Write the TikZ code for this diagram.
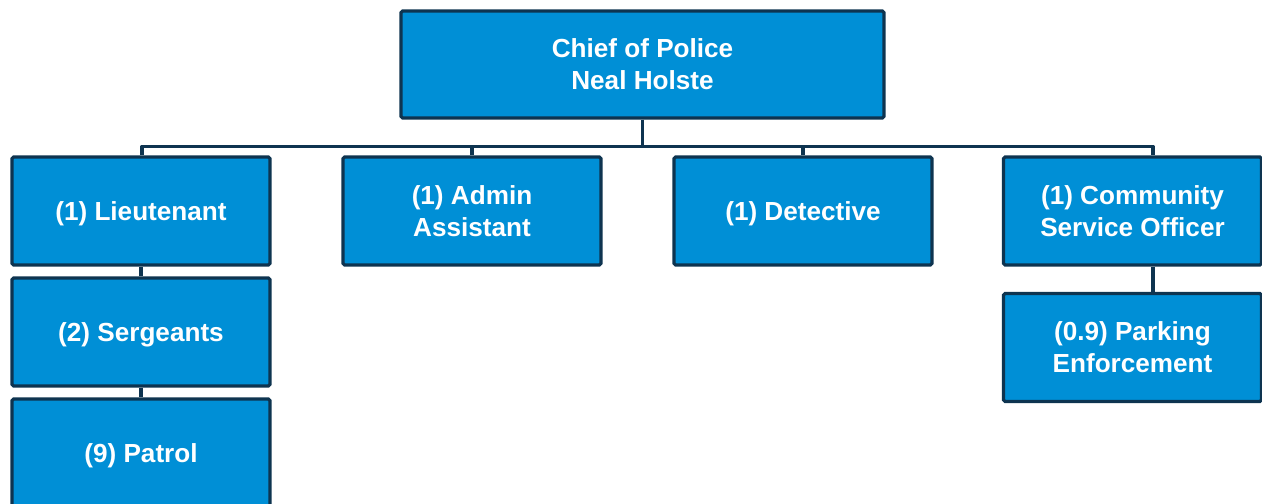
\documentclass[tikz,border=0pt]{standalone}
\usepackage{fontspec}
\setmainfont{Liberation Sans}
\definecolor{boxfill}{RGB}{0,143,214}
\definecolor{boxline}{RGB}{14,52,80}
\begin{document}
\begin{tikzpicture}[x=0.75pt,y=-0.75pt,
  orgbox/.style={draw=boxline,line width=2.4pt,fill=boxfill,rounded corners=1.2pt,
    minimum width=193.5pt,minimum height=81pt,inner sep=0pt,align=center,
    text=white,font=\fontsize{19.6}{24}\selectfont\bfseries},
  oneline/.style={text depth=0pt},
  link/.style={draw=boxline,line width=2.4pt}]
\useasboundingbox (0,0) rectangle (1262,503);
\node[orgbox,minimum width=362.25pt,minimum height=80.25pt] (chief) at (642.5,64.5) {Chief of Police\\Neal Holste};
\node[orgbox,oneline] (lieut) at (141,211) {(1) Lieutenant};
\node[orgbox] (admin) at (472,211) {(1) Admin\\Assistant};
\node[orgbox,oneline] (det) at (803,211) {(1) Detective};
\node[orgbox] (cso) at (1132.5,211) {(1) Community\\Service Officer};
\node[orgbox,oneline] (serg) at (141,332) {(2) Sergeants};
\node[orgbox,oneline] (patrol) at (141,453) {(9) Patrol};
\node[orgbox] (park) at (1132.5,347.5) {(0.9) Parking\\Enforcement};
\coordinate (busL) at (142,146.5);
\coordinate (busR) at (1153,146.5);
\draw[link] (chief.south) -- (chief.south |- busL);
\draw[link,line join=round] (busL |- lieut.north) -- (busL) -- (busR) -- (busR |- cso.north);
\draw[link] (admin.north) -- (admin.north |- busL);
\draw[link] (det.north) -- (det.north |- busL);
\draw[link] (lieut.south) -- (serg.north);
\draw[link] (serg.south) -- (patrol.north);
\draw[link] (busR |- cso.south) -- (busR |- park.north);
\end{tikzpicture}
\end{document}
